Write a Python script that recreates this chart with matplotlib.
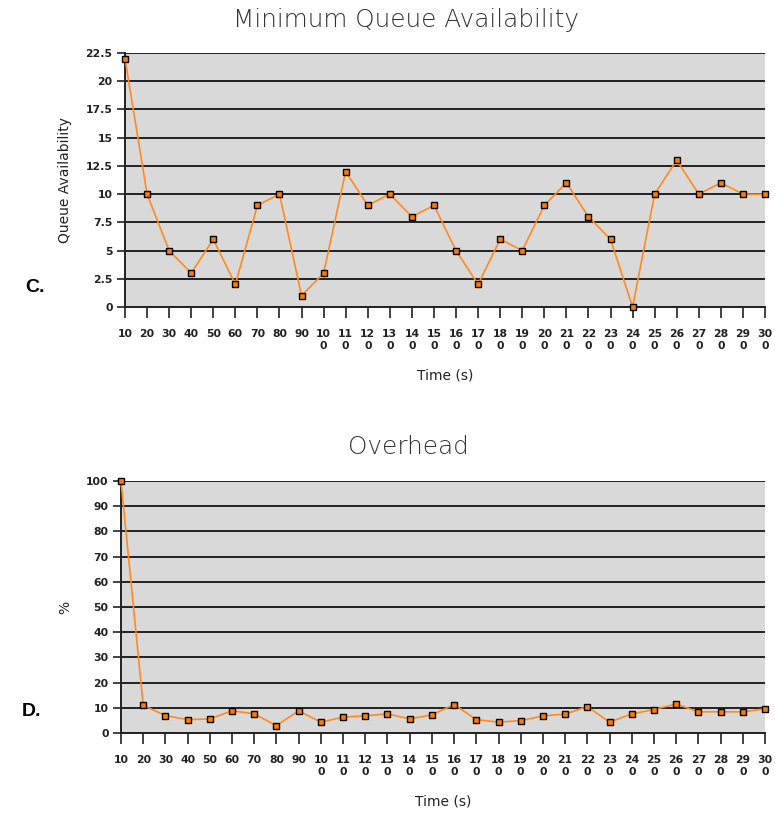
import matplotlib
matplotlib.use('Agg')
import matplotlib.pyplot as plt

# sampling times (s)
times = list(range(10, 310, 10))

queue_avail = [22, 10, 5, 3, 6, 2, 9, 10, 1, 3,
               12, 9, 10, 8, 9, 5, 2, 6, 5, 9,
               11, 8, 6, 0, 10, 13, 10, 11, 10, 10]

overhead = [100, 11, 6.9, 5.3, 5.6, 8.8, 7.6, 2.9, 8.8, 4.3,
            6.3, 6.8, 7.6, 5.6, 7.2, 11.3, 5.3, 4.3, 4.9, 6.8,
            7.5, 10.5, 4.3, 7.6, 9.3, 11.5, 8.4, 8.4, 8.4, 9.6]

queue_ticks = [0, 2.5, 5, 7.5, 10, 12.5, 15, 17.5, 20, 22.5]
queue_tick_labels = ['0', '2.5', '5', '7.5', '10', '12.5', '15', '17.5', '20', '22.5']
overhead_ticks = list(range(0, 101, 10))

LINE = '#ff8a1f'
FACE = '#ff7a00'
BG = '#d9d9d9'


def time_label(t: int) -> str:
    s = str(t)
    return s if len(s) < 3 else s[:2] + '\n' + s[2:]


def draw(ax, values, yticks, ylabels, ymax, ylabel):
    ax.set_facecolor(BG)
    for y in yticks:
        ax.axhline(y, color='#222222', linewidth=1.4, zorder=1)
    ax.plot(times, values, color=LINE, linewidth=1.2, marker='s',
            markersize=4.2, markerfacecolor=FACE, markeredgecolor='black',
            markeredgewidth=1.0, zorder=3, clip_on=False)
    ax.set_xlim(10, 300)
    ax.set_ylim(0, ymax)
    ax.set_yticks(yticks)
    ax.set_yticklabels(ylabels)
    ax.set_xticks(times)
    ax.set_xticklabels([time_label(t) for t in times], linespacing=1.2)
    for side in ('top', 'right'):
        ax.spines[side].set_visible(False)
    for side in ('left', 'bottom'):
        ax.spines[side].set_color('#222222')
        ax.spines[side].set_linewidth(1.4)
    ax.tick_params(axis='x', length=8, width=1.2, color='#222222',
                   labelsize=7.8, pad=8, labelcolor='#222222')
    ax.tick_params(axis='y', length=6, width=1.2, color='#222222',
                   labelsize=7.8, pad=3, labelcolor='#222222')
    for lab in ax.get_xticklabels() + ax.get_yticklabels():
        lab.set_fontweight('bold')
    ax.set_xlabel('Time (s)', fontsize=10, color='#222222', labelpad=13)
    ax.set_ylabel(ylabel, fontsize=10, color='#222222', labelpad=10)


fig = plt.figure(figsize=(7.75, 8.14), dpi=100)

ax_top = fig.add_axes([125 / 775, 507 / 814, 640 / 775, 254 / 814])
draw(ax_top, queue_avail, queue_ticks, queue_tick_labels, 22.5,
     'Queue Availability')

ax_bot = fig.add_axes([121 / 775, 81 / 814, 644 / 775, 252 / 814])
draw(ax_bot, overhead, overhead_ticks, [str(v) for v in overhead_ticks],
     100, '%')

fig.text(406 / 775, 1 - 20 / 814, 'Minimum Queue Availability', fontsize=17.8,
         color='#333333', fontweight='light', ha='center', va='center')
fig.text(408 / 775, 1 - 447 / 814, 'Overhead', fontsize=17.8,
         color='#333333', fontweight='light', ha='center', va='center')

fig.text(25 / 775, 1 - 287 / 814, 'C.', fontsize=14, fontweight='bold',
         family='Liberation Sans', va='center', ha='left')
fig.text(22 / 775, 1 - 712 / 814, 'D.', fontsize=14, fontweight='bold',
         family='Liberation Sans', va='center', ha='left')

fig.savefig('out.png', dpi=100, facecolor='white')
